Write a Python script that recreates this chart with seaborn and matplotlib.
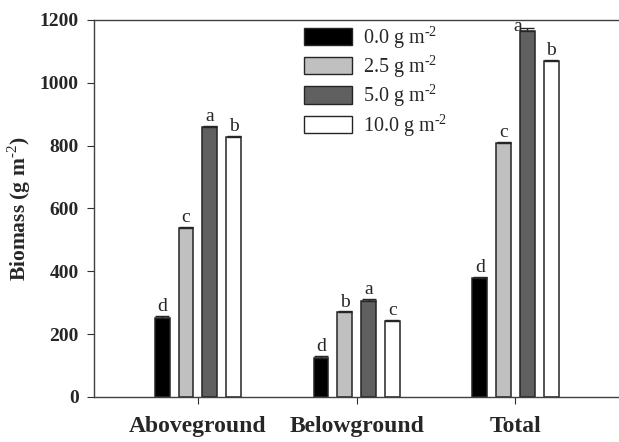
import pandas as pd
import numpy as np
import matplotlib.pyplot as plt
import seaborn as sns
from matplotlib.container import BarContainer

parts = ['Aboveground', 'Belowground', 'Total']
rates = ['0.0 g m$^{\\text{-2}}$', '2.5 g m$^{\\text{-2}}$', '5.0 g m$^{\\text{-2}}$',
         '10.0 g m$^{\\text{-2}}$']
# biomass per rate, order: Aboveground, Belowground, Total
b00 = [252, 125, 377]
b25 = [538, 269, 807]
b50 = [860, 305, 1165]
b100 = [826, 242, 1068]
# standard errors
e00 = [5, 4, 5]
e25 = [3, 3, 5]
e50 = [3, 7, 8]
e100 = [5, 3, 5]
# significance letters
l00 = ['d', 'd', 'd']
l25 = ['c', 'b', 'c']
l50 = ['a', 'a', 'a']
l100 = ['b', 'c', 'b']

errs = [e00, e25, e50, e100]
lets = [l00, l25, l50, l100]
colors = ['#000000', '#c0c0c0', '#606060', '#ffffff']

df = pd.DataFrame({
    'Part': parts * 4,
    'Rate': [r for r in rates for _ in parts],
    'Biomass': b00 + b25 + b50 + b100,
})

sns.set_style('ticks')
plt.rcParams['font.family'] = ['Liberation Serif', 'DejaVu Serif']
plt.rcParams['mathtext.fontset'] = 'custom'
plt.rcParams['mathtext.rm'] = 'Liberation Serif'
plt.rcParams['mathtext.bf'] = 'Liberation Serif:bold'

fig = plt.figure(figsize=(6.19, 4.42), dpi=100)
ax = fig.add_axes([0.152, 0.102, 0.85, 0.853])

sns.barplot(x='Part', y='Biomass', hue='Rate', data=df, order=parts, hue_order=rates,
            palette=colors, width=0.6, gap=0.375, edgecolor='#252525', linewidth=1.1,
            legend=False, ax=ax)

bar_groups = [c for c in ax.containers if isinstance(c, BarContainer)]
for i, cont in enumerate(bar_groups):
    for j, bar in enumerate(cont.patches):
        xc = bar.get_x() + bar.get_width() / 2
        top = bar.get_height()
        ax.errorbar(xc, top, yerr=[[0], [errs[i][j]]], fmt='none', ecolor='#252525',
                    elinewidth=1, capsize=5, capthick=1)
        if top + errs[i][j] + 45 > 1200:
            # no room under the top spine: put letter beside the bar
            ax.text(bar.get_x() + 0.01, top - 14, lets[i][j], ha='right',
                    va='bottom', fontsize=14)
        else:
            ax.text(xc, top + errs[i][j] + 3, lets[i][j], ha='center', va='bottom',
                    fontsize=14)

handles = [plt.Rectangle((0, 0), 1, 1, facecolor=c, edgecolor='#252525', linewidth=1)
           for c in colors]
ax.legend(handles, rates, loc='upper left', bbox_to_anchor=(0.399, 0.99), frameon=False,
          fontsize=14.5, handlelength=2.4, handleheight=0.95, labelspacing=0.12,
          handletextpad=0.55, borderpad=0, borderaxespad=0)

ax.set_xlim(-0.654, 2.66)
ax.set_ylim(0, 1200)
ax.set_yticks(range(0, 1201, 200))
ax.set_xlabel('')
ax.set_ylabel('Biomass (g m$^{\\text{-2}}$)', fontsize=15.5, fontweight='bold', labelpad=5)
for lab in ax.get_xticklabels() + ax.get_yticklabels():
    lab.set_fontweight('bold')
ax.tick_params(axis='y', labelsize=14, length=5, pad=6, color='#303030')
ax.tick_params(axis='x', labelsize=17, length=5, pad=9, color='#303030')
for s in ['left', 'bottom', 'top']:
    ax.spines[s].set_color('#404040')
    ax.spines[s].set_linewidth(1)
ax.spines['right'].set_visible(False)

fig.savefig('out.png', dpi=100)
